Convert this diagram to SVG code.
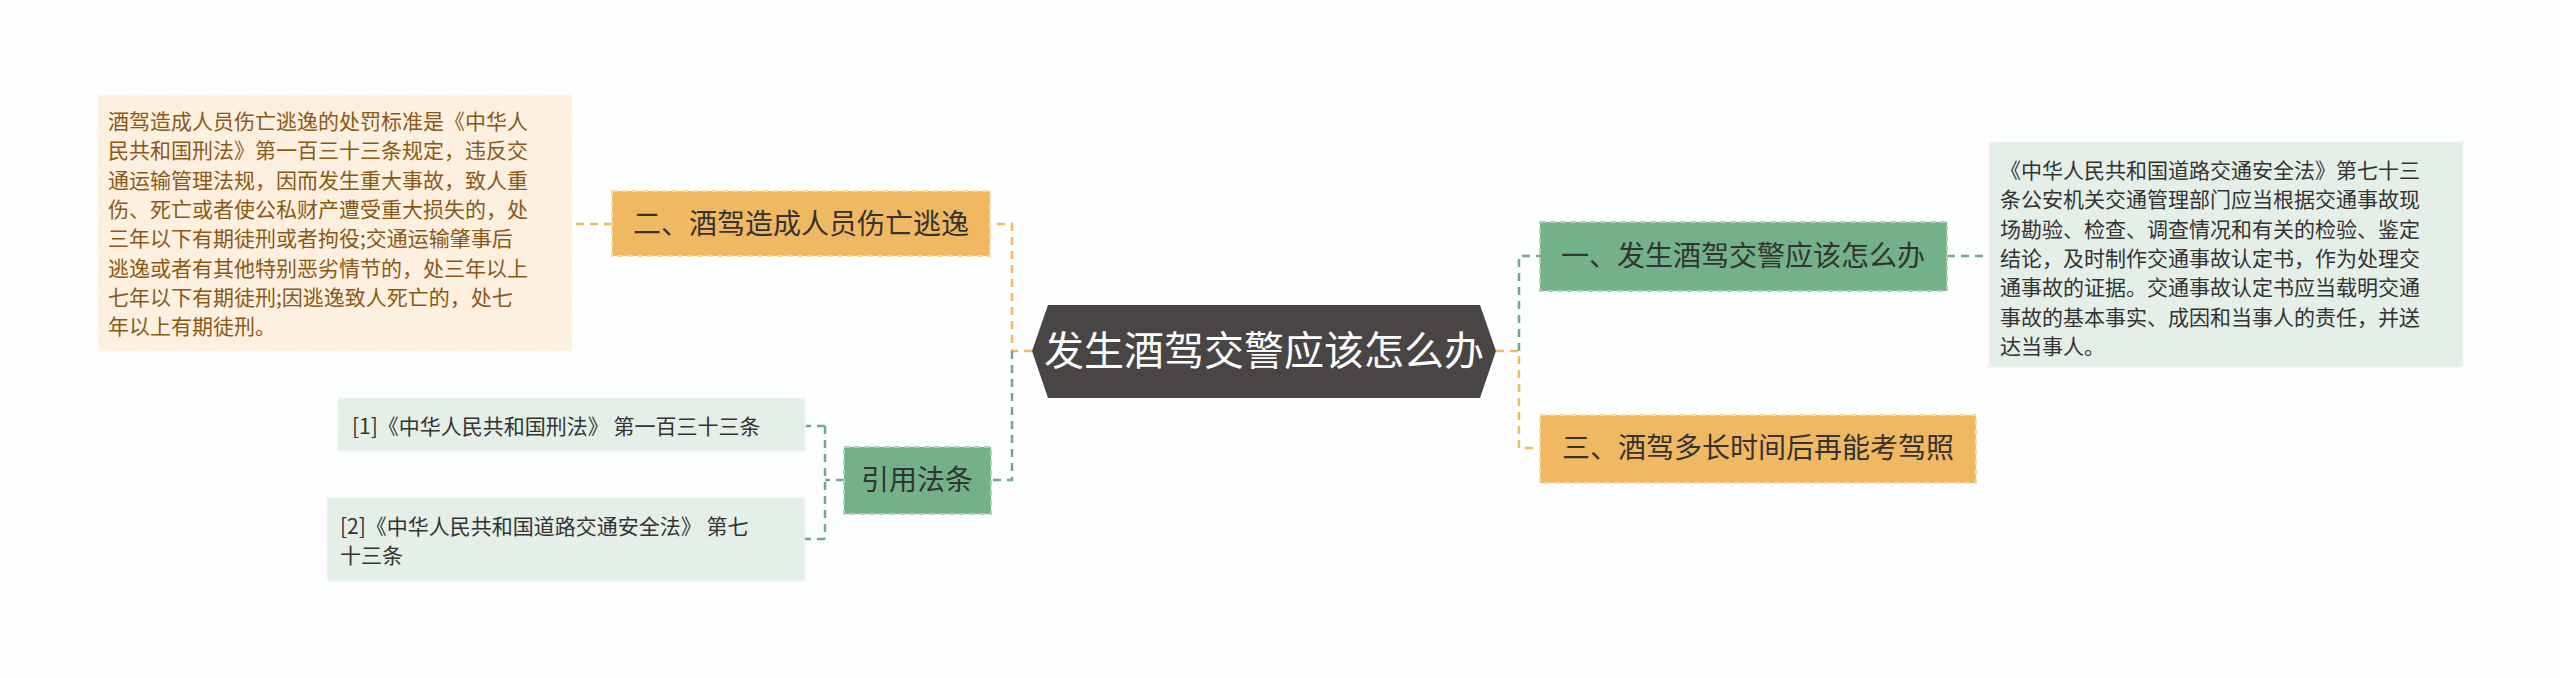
<svg xmlns="http://www.w3.org/2000/svg" width="2560" height="678" viewBox="0 0 2560 678">
<style>
text{font-family:"Noto Sans CJK SC","Noto Sans",sans-serif}
.o{fill:#f1b862;stroke:#f7d9a3;stroke-width:2;stroke-dasharray:6 4}
.g{fill:#72b189;stroke:#a9d2b6;stroke-width:2;stroke-dasharray:6 4}
.lt{fill:#e4efe7;stroke:#f0f6f1;stroke-width:2;stroke-dasharray:6 4}
.lo{fill:#fdf0e1;stroke:#fdf6ec;stroke-width:2;stroke-dasharray:6 4}
.co{fill:none;stroke:#f1b862;stroke-width:2.5;stroke-dasharray:8 6}
.cg{fill:none;stroke:#72a98a;stroke-width:2.5;stroke-dasharray:8 6}
.t1{font-size:28px;fill:#333}
.t2{font-size:21px;fill:#333}
.t3{font-size:21px;fill:#8a5a14}
</style>
<rect width="2560" height="678" fill="#fdfeff"/>
<g id="connectors">
<path class="co" d="M1032 351 H1012 V224 H990"/>
<path class="cg" d="M1012 351 V480 H991"/>
<path class="co" d="M1496 351 H1519 V448 H1540"/>
<path class="cg" d="M1519 351 V256 H1540"/>
<path class="co" d="M612 224 H572"/>
<path class="cg" d="M1947 256 H1989"/>
<path class="cg" d="M844 480 H825 M825 426 V539 M825 426 H805 M825 539 H805"/>
</g>
<g id="center">
<path d="M1048 305 H1480 L1496 351 L1480 398 H1048 L1032 351 Z" fill="#4a4545"/>
<text x="1264" y="365" font-size="40" fill="#fff" text-anchor="middle">发生酒驾交警应该怎么办</text>
</g>
<g id="n2">
<rect class="o" x="612" y="191" width="378" height="65"/>
<text class="t1" x="801" y="234" text-anchor="middle">二、酒驾造成人员伤亡逃逸</text>
</g>
<g id="n2d">
<rect class="lo" x="98" y="95" width="474" height="256"/>
<text class="t3" x="108"><tspan x="108" y="129">酒驾造成人员伤亡逃逸的处罚标准是《中华人</tspan><tspan x="108" y="158">民共和国刑法》第一百三十三条规定，违反交</tspan><tspan x="108" y="188">通运输管理法规，因而发生重大事故，致人重</tspan><tspan x="108" y="217">伤、死亡或者使公私财产遭受重大损失的，处</tspan><tspan x="108" y="246">三年以下有期徒刑或者拘役;交通运输肇事后</tspan><tspan x="108" y="276">逃逸或者有其他特别恶劣情节的，处三年以上</tspan><tspan x="108" y="305">七年以下有期徒刑;因逃逸致人死亡的，处七</tspan><tspan x="108" y="334">年以上有期徒刑。</tspan></text>
</g>
<g id="ref">
<rect class="g" x="844" y="447" width="147" height="67"/>
<text class="t1" x="917" y="490" text-anchor="middle">引用法条</text>
</g>
<g id="ref1">
<rect class="lt" x="338" y="398" width="467" height="53"/>
<text class="t2" x="352" y="434">[1]《中华人民共和国刑法》 第一百三十三条</text>
</g>
<g id="ref2">
<rect class="lt" x="327" y="498" width="478" height="83"/>
<text class="t2" x="340"><tspan x="340" y="534">[2]《中华人民共和国道路交通安全法》 第七</tspan><tspan x="340" y="563">十三条</tspan></text>
</g>
<g id="n1">
<rect class="g" x="1540" y="222" width="407" height="69"/>
<text class="t1" x="1743" y="266" text-anchor="middle">一、发生酒驾交警应该怎么办</text>
</g>
<g id="n1d">
<rect class="lt" x="1989" y="142" width="474" height="225"/>
<text class="t2" x="2000"><tspan x="2000" y="178">《中华人民共和国道路交通安全法》第七十三</tspan><tspan x="2000" y="207">条公安机关交通管理部门应当根据交通事故现</tspan><tspan x="2000" y="237">场勘验、检查、调查情况和有关的检验、鉴定</tspan><tspan x="2000" y="266">结论，及时制作交通事故认定书，作为处理交</tspan><tspan x="2000" y="295">通事故的证据。交通事故认定书应当载明交通</tspan><tspan x="2000" y="325">事故的基本事实、成因和当事人的责任，并送</tspan><tspan x="2000" y="354">达当事人。</tspan></text>
</g>
<g id="n3">
<rect class="o" x="1540" y="415" width="436" height="68"/>
<text class="t1" x="1758" y="458" text-anchor="middle">三、酒驾多长时间后再能考驾照</text>
</g>
</svg>
